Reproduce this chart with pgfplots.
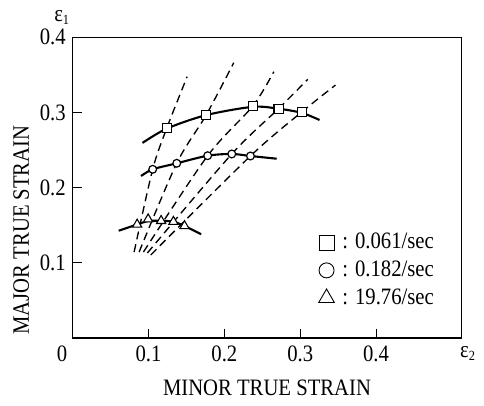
\documentclass[border=0pt]{standalone}
\usepackage{pgfplots}
\pgfplotsset{compat=1.18}
\usepackage{fontspec}
\setmainfont{Liberation Serif}[FakeStretch=0.88]
\begin{document}
\fontsize{23.5}{27}\selectfont
\begin{tikzpicture}
\useasboundingbox (-72.7pt,-68pt) rectangle (411.3pt,338pt);
\begin{axis}[
  at={(0,0)}, anchor=south west,
  scale only axis, width=389pt, height=300.7pt,
  xmin=0, xmax=0.513, ymin=0, ymax=0.4,
  axis line style={line width=1.1pt},
  tick align=inside, xtick pos=bottom, ytick pos=left,
  major tick length=9pt,
  tick style={line width=1pt, black},
  xtick={0.1,0.2,0.3,0.4}, xticklabels={0.1,0.2,0.3,0.4},
  ytick={0.1,0.2,0.3,0.4}, yticklabels={0.1,0.2,0.3,0.4},
  /pgf/number format/assume math mode=true,
  ticklabel style={font=\fontsize{23.5}{27}\selectfont},
  yticklabel style={xshift=1pt},
  xticklabel style={yshift=0pt},
  clip=false,
  legend style={draw=none, fill=none, at={(rel axis cs:0.632,0.356)}, anchor=north west,
    font=\fontsize{23.5}{27}\selectfont, row sep=4.5pt, inner sep=0pt,
    legend cell align=left},
]
% solid fitted curves
\addplot[line width=2.1pt, smooth, forget plot] coordinates {(0.092,0.2595)(0.124,0.2785)(0.176,0.2965)(0.2375,0.3075)(0.2714,0.3050)(0.302,0.2995)(0.3255,0.2900)};
\addplot[line width=2.1pt, smooth, forget plot] coordinates {(0.0902,0.2155)(0.1055,0.2244)(0.1372,0.2324)(0.178,0.2425)(0.2098,0.2448)(0.2344,0.2421)(0.269,0.2385)};
\addplot[line width=2.1pt, smooth, forget plot] coordinates {(0.0607,0.1427)(0.085,0.1510)(0.0995,0.1555)(0.1166,0.1559)(0.1328,0.1547)(0.1474,0.1490)(0.1694,0.1380)};
% dashed strain paths
\addplot[line width=1.35pt, dash pattern=on 8pt off 5pt, smooth, tension=0.5, forget plot] coordinates {(0.081,0.1144)(0.1055,0.2244)(0.124,0.279)(0.1509,0.3476)};
\addplot[line width=1.35pt, dash pattern=on 8pt off 5pt, smooth, tension=0.5, forget plot] coordinates {(0.0876,0.1144)(0.1372,0.2324)(0.176,0.2966)(0.2124,0.3662)};
\addplot[line width=1.35pt, dash pattern=on 8pt off 5pt, smooth, tension=0.5, forget plot] coordinates {(0.0933,0.1144)(0.178,0.2425)(0.2375,0.3086)(0.2652,0.3542)};
\addplot[line width=1.35pt, dash pattern=on 8pt off 5pt, smooth, tension=0.5, forget plot] coordinates {(0.0985,0.1131)(0.2098,0.2448)(0.2714,0.305)(0.31,0.3441)};
\addplot[line width=1.35pt, dash pattern=on 8pt off 5pt, smooth, tension=0.5, forget plot] coordinates {(0.1029,0.1104)(0.2344,0.2421)(0.302,0.3006)(0.3466,0.3365)};
% data marks
\addplot[only marks, mark=square*, mark size=4.6pt, mark options={fill=white, draw=black, line width=1.2pt}, forget plot] coordinates {(0.124,0.279)(0.176,0.2966)(0.2375,0.3086)(0.2714,0.305)(0.302,0.3006)};
\addplot[only marks, mark=*, mark size=3.9pt, mark options={fill=white, draw=black, line width=1.2pt}, forget plot] coordinates {(0.1055,0.2244)(0.1372,0.2324)(0.178,0.2425)(0.2098,0.2448)(0.2344,0.2421)};
\addplot[only marks, mark=triangle*, mark size=5.3pt, mark options={fill=white, draw=black, line width=1.1pt}, forget plot] coordinates {(0.085,0.151)(0.0995,0.158)(0.1166,0.1559)(0.1328,0.1547)(0.1474,0.149)};
% legend
\addlegendimage{only marks, mark=square, mark size=7.5pt, mark options={line width=0.9pt, black}}
\addlegendentry{\hspace{6pt}:\hspace{7pt}0.061/sec}
\addlegendimage{only marks, mark=o, mark size=7.5pt, mark options={line width=0.9pt, black}}
\addlegendentry{\hspace{6pt}:\hspace{7pt}0.182/sec}
\addlegendimage{only marks, mark=triangle, mark size=9pt, mark options={line width=0.9pt, black}}
\addlegendentry{\hspace{6pt}:\hspace{7pt}19.76/sec}
\end{axis}
\node at (-10.7pt,-15.5pt) {0};
\node at (-11pt,320.5pt) {ε\raisebox{-0.35ex}{\fontsize{14}{15}\selectfont 1}};
\node at (394.8pt,-15.5pt) {ε\raisebox{-0.35ex}{\fontsize{14}{15}\selectfont 2}};
\node at (194.3pt,-49.5pt) {MINOR TRUE STRAIN};
\node[rotate=90] at (-51.4pt,108pt) {MAJOR TRUE STRAIN};
\end{tikzpicture}
\end{document}
